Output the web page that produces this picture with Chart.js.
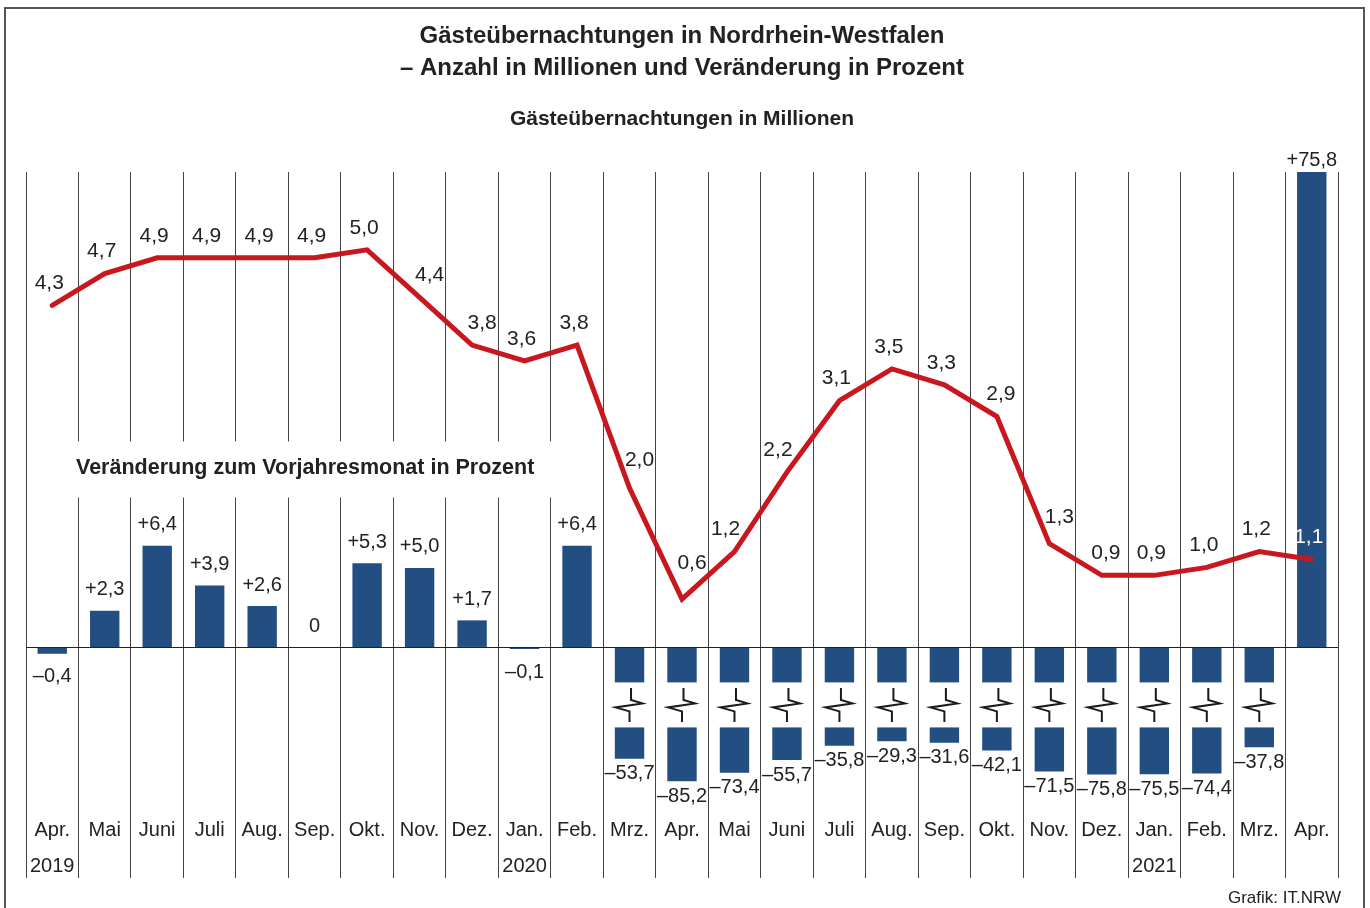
<!DOCTYPE html>
<html lang="de">
<head>
<meta charset="utf-8">
<title>Gästeübernachtungen in Nordrhein-Westfalen</title>
<script src="https://cdn.jsdelivr.net/npm/chart.js@4.4.1/dist/chart.umd.min.js"></script>
<style>
  html, body { margin: 0; padding: 0; background: #fff; overflow: hidden; }
  #wrap { position: relative; width: 1370px; height: 908px; }
  #frame { position: absolute; left: 4px; top: 7px; width: 1357px; height: 1000px; border: 2px solid #555; }
  #chart { position: absolute; left: 0; top: 0; }
  #source { position: absolute; right: 29px; top: 888px; font: 17px "Liberation Sans", Arial, sans-serif; color: #222; }
</style>
</head>
<body>
<div id="wrap">
  <div id="frame"></div>
  <canvas id="chart" width="1370" height="908"></canvas>
  <div id="source">Grafik: IT.NRW</div>
</div>
<script>
// Monate April 2019 bis April 2021
const months = [
  ['Apr.', '2019'], 'Mai', 'Juni', 'Juli', 'Aug.', 'Sep.', 'Okt.', 'Nov.', 'Dez.',
  ['Jan.', '2020'], 'Feb.', 'Mrz.', 'Apr.', 'Mai', 'Juni', 'Juli', 'Aug.', 'Sep.', 'Okt.', 'Nov.', 'Dez.',
  ['Jan.', '2021'], 'Feb.', 'Mrz.', 'Apr.'
];

// Gästeübernachtungen in Millionen
const nightsMillions = [4.3, 4.7, 4.9, 4.9, 4.9, 4.9, 5.0, 4.4, 3.8, 3.6, 3.8, 2.0, 0.6,
  1.2, 2.2, 3.1, 3.5, 3.3, 2.9, 1.3, 0.9, 0.9, 1.0, 1.2, 1.1];

// Veränderung zum Vorjahresmonat in Prozent
const changePercent = [-0.4, 2.3, 6.4, 3.9, 2.6, 0, 5.3, 5.0, 1.7, -0.1, 6.4, -53.7, -85.2,
  -73.4, -55.7, -35.8, -29.3, -31.6, -42.1, -71.5, -75.8, -75.5, -74.4, -37.8, 75.8];

const FONT = '"Liberation Sans", Arial, Helvetica, sans-serif';
const TEXT = '#222';
const BLUE = '#234e81';
const RED = '#c8171f';

// linear scale with a cut below a given value (lower part compressed)
class BrokenLinearScale extends Chart.LinearScale {
  static id = 'brokenLinear';
  static defaults = Chart.LinearScale.defaults;
  getPixelForValue(value) {
    const cut = this.options.cut;
    if (!cut || value >= cut.value) return super.getPixelForValue(value);
    const zero = super.getPixelForValue(0);
    const ppu = Math.abs(super.getPixelForValue(1) - zero);
    return zero + cut.offset + (cut.value - value) * ppu * cut.ratio;
  }
}
Chart.register(BrokenLinearScale);

function fmt(v, signed) {
  if (v === 0) return '0';
  const s = Math.abs(v).toFixed(1).replace('.', ',');
  if (!signed) return s;
  return (v > 0 ? '+' : '–') + s;
}

// y of the drawn line at x (null outside)
function lineYAt(points, x) {
  for (let k = 0; k < points.length - 1; k++) {
    const a = points[k], b = points[k + 1];
    if (x >= a.x && x <= b.x) return a.y + (b.y - a.y) * (x - a.x) / (b.x - a.x);
  }
  return null;
}

// first free spot above the point that the line does not cross
function placeLabel(points, i, w, h) {
  const pt = points[i];
  for (let dy = 22; dy <= 80; dy += 2) {
    for (const dx of [-3, 4, -9, 10]) {
      const cx = pt.x + dx, cy = pt.y - dy;
      let free = true;
      for (let x = cx - w / 2; x <= cx + w / 2; x += 2) {
        const ly = lineYAt(points, x);
        if (ly !== null && ly > cy - h / 2 - 4 && ly < cy + h / 2 + 4) { free = false; break; }
      }
      if (free) return { x: cx, y: cy };
    }
  }
  return { x: pt.x - 3, y: pt.y - 29 };
}

const labelPlugin = {
  id: 'labelPlugin',
  beforeDatasetsDraw(chart) {
    const { ctx, chartArea } = chart;
    const zero = chart.scales.yBar.getPixelForValue(0);
    ctx.save();
    // white box behind the heading of the percent part
    ctx.fillStyle = '#fff';
    ctx.fillRect(chartArea.left + 1, zero - 206, 545, 56);
    ctx.fillStyle = TEXT;
    ctx.font = 'bold 21.5px ' + FONT;
    ctx.textAlign = 'left';
    ctx.textBaseline = 'middle';
    ctx.fillText('Veränderung zum Vorjahresmonat in Prozent', chartArea.left + 50, zero - 179);
    ctx.restore();
  },
  afterDatasetsDraw(chart) {
    const { ctx, chartArea } = chart;
    const yBar = chart.scales.yBar;
    const cut = yBar.options.cut;
    const zero = yBar.getPixelForValue(0);
    const bars = chart.getDatasetMeta(1).data;
    const points = chart.getDatasetMeta(0).data;
    ctx.save();
    ctx.textAlign = 'center';
    ctx.textBaseline = 'middle';

    // breaks in the long negative bars
    bars.forEach((bar, i) => {
      const v = changePercent[i];
      if (v >= cut.value) return;
      const w = bar.width;
      ctx.fillStyle = '#fff';
      ctx.fillRect(bar.x - w / 2 - 1, zero + cut.gapTop, w + 2, cut.offset - cut.gapTop);
      const cx = bar.x, cy = zero + (cut.gapTop + cut.offset) / 2;
      ctx.strokeStyle = '#1a1a1a';
      ctx.lineWidth = 2;
      ctx.beginPath();
      ctx.moveTo(cx + 1.5, cy - 17);
      ctx.lineTo(cx + 1.5, cy - 5);
      ctx.lineTo(cx + 13, cy - 1.5);
      ctx.lineTo(cx - 14, cy + 2.5);
      ctx.lineTo(cx, cy + 6.5);
      ctx.lineTo(cx, cy + 17);
      ctx.stroke();
    });

    // bar labels
    ctx.font = '20px ' + FONT;
    ctx.fillStyle = TEXT;
    bars.forEach((bar, i) => {
      const v = changePercent[i];
      let y;
      if (v >= 0) {
        const top = bar.y;
        y = top < chartArea.top ? chartArea.top - 12 : top - 21;
      } else {
        y = bar.y + (v < cut.value ? 15 : 23);
      }
      ctx.fillText(fmt(v, true), bar.x, y);
    });

    // line labels
    ctx.font = '21px ' + FONT;
    points.forEach((pt, i) => {
      const text = fmt(nightsMillions[i], false);
      const pos = placeLabel(points, i, ctx.measureText(text).width + 2, 16);
      const bar = bars[i];
      const top = Math.max(Math.min(bar.y, bar.base), chartArea.top);
      const inside = pos.x > bar.x - bar.width / 2 && pos.x < bar.x + bar.width / 2 &&
        pos.y > top && pos.y < Math.max(bar.y, bar.base);
      ctx.fillStyle = inside ? '#fff' : TEXT;
      ctx.fillText(text, pos.x, pos.y);
    });
    ctx.restore();
  }
};

new Chart(document.getElementById('chart'), {
  data: {
    labels: months,
    datasets: [
      {
        type: 'line',
        data: nightsMillions,
        yAxisID: 'yLine',
        borderColor: RED,
        borderWidth: 5,
        borderCapStyle: 'round',
        borderJoinStyle: 'miter',
        pointRadius: 0,
        tension: 0,
        order: 0
      },
      {
        type: 'bar',
        data: changePercent,
        yAxisID: 'yBar',
        backgroundColor: BLUE,
        borderWidth: 0,
        categoryPercentage: 1,
        barPercentage: 0.56,
        order: 1
      }
    ]
  },
  options: {
    responsive: false,
    animation: false,
    devicePixelRatio: 1,
    layout: { padding: { left: 26, right: 32, top: 0, bottom: 24 } },
    plugins: {
      legend: { display: false },
      tooltip: { enabled: false },
      title: {
        display: true,
        text: ['Gästeübernachtungen in Nordrhein-Westfalen', '– Anzahl in Millionen und Veränderung in Prozent'],
        color: TEXT,
        font: { family: FONT, size: 24, weight: 'bold', lineHeight: 32 / 24 },
        padding: { top: 20, bottom: 14 }
      },
      subtitle: {
        display: true,
        text: 'Gästeübernachtungen in Millionen',
        color: TEXT,
        font: { family: FONT, size: 21, weight: 'bold', lineHeight: 22 / 21 },
        padding: { top: 10, bottom: 42 }
      }
    },
    scales: {
      x: {
        offset: true,
        grid: { offset: true, color: '#444', lineWidth: 1, tickLength: 70 },
        border: { display: false },
        ticks: {
          color: TEXT,
          font: { family: FONT, size: 20, lineHeight: 36 / 20 },
          padding: -66,
          autoSkip: false,
          maxRotation: 0
        },
        // labels sit between the extended grid lines
        afterFit: s => { s.height = 76; }
      },
      yLine: {
        type: 'linear',
        display: false,
        min: -2.03,
        max: 5.98
      },
      yBar: {
        type: 'brokenLinear',
        display: true,
        min: -10.1,
        max: 29.9,
        cut: { value: -10, offset: 80, gapTop: 35, ratio: 0.045 },
        afterBuildTicks: s => { s.ticks = [{ value: 0 }]; },
        ticks: { display: false },
        border: { display: false },
        grid: { color: '#222', lineWidth: 1, drawTicks: false }
      }
    }
  },
  plugins: [labelPlugin]
});
</script>
</body>
</html>
